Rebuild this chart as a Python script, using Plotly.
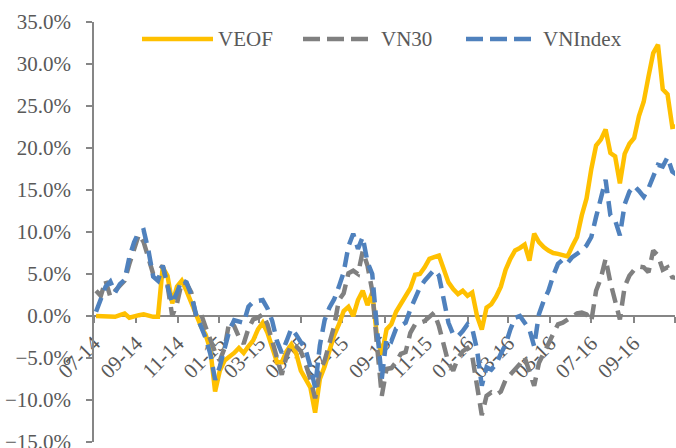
import plotly.graph_objects as go

dates = [
    "2014-07-04","2014-07-11","2014-07-18","2014-07-25","2014-08-01","2014-08-08","2014-08-15","2014-08-22","2014-08-29",
    "2014-09-05","2014-09-12","2014-09-19","2014-09-26","2014-10-03","2014-10-10","2014-10-17","2014-10-24","2014-10-31",
    "2014-11-07","2014-11-14","2014-11-21","2014-11-28","2014-12-05","2014-12-12","2014-12-19","2014-12-26",
    "2015-01-02","2015-01-09","2015-01-16","2015-01-23","2015-01-30","2015-02-06","2015-02-13","2015-02-20","2015-02-27",
    "2015-03-06","2015-03-13","2015-03-20","2015-03-27","2015-04-03","2015-04-10","2015-04-17","2015-04-24","2015-05-01",
    "2015-05-08","2015-05-15","2015-05-22","2015-05-29","2015-06-05","2015-06-12","2015-06-19","2015-06-26","2015-07-03",
    "2015-07-10","2015-07-17","2015-07-24","2015-07-31","2015-08-07","2015-08-14","2015-08-21","2015-08-28","2015-09-04",
    "2015-09-11","2015-09-18","2015-09-25","2015-10-02","2015-10-09","2015-10-16","2015-10-23","2015-10-30","2015-11-06",
    "2015-11-13","2015-11-20","2015-11-27","2015-12-04","2015-12-11","2015-12-18","2015-12-25",
    "2016-01-01","2016-01-08","2016-01-15","2016-01-22","2016-01-29","2016-02-05","2016-02-12","2016-02-19","2016-02-26",
    "2016-03-04","2016-03-11","2016-03-18","2016-03-25","2016-04-01","2016-04-08","2016-04-15","2016-04-22","2016-04-29",
    "2016-05-06","2016-05-13","2016-05-20","2016-05-27","2016-06-03","2016-06-10","2016-06-17","2016-06-24","2016-07-01",
    "2016-07-08","2016-07-15","2016-07-22","2016-07-29","2016-08-05","2016-08-12","2016-08-19","2016-08-26","2016-09-02",
    "2016-09-09","2016-09-16","2016-09-23","2016-09-30","2016-10-07","2016-10-14","2016-10-21","2016-10-28","2016-11-04",
]

veof = [
    0.0, 0.0, 0.0, -0.1, -0.1, 0.1, 0.3, -0.2, 0.0, 0.1,
    0.2, 0.0, -0.1, -0.1, 5.8, 4.8, 1.5, 3.5, 4.2, 3.0,
    1.5, 0.1, -1.2, -2.2, -4.0, -9.0, -6.5, -5.3, -4.9, -4.4,
    -3.8, -4.4, -3.6, -2.9, -1.6, -0.8, -2.0, -3.9, -5.5, -5.5,
    -4.2, -3.4, -4.4, -6.5, -7.6, -8.5, -11.5, -7.5, -6.0, -4.0,
    -2.3, -1.0, 0.6, 1.1, 0.0, 1.9, 3.0, 1.3, 2.8, -2.5,
    -4.6, -1.6, -1.0, 0.5, 1.5, 2.3, 3.3, 4.9, 5.0, 5.8,
    6.8, 7.0, 7.2, 5.6, 4.0, 3.2, 2.6, 3.0, 2.4, 2.8,
    0.0, -1.6, 1.0, 1.4, 2.3, 3.5, 5.5, 6.8, 7.8, 8.1,
    8.5, 6.6, 9.8, 8.8, 8.2, 7.8, 7.5, 7.4, 7.2, 7.1,
    8.3, 9.4, 12.0, 14.0, 17.5, 20.3, 21.0, 22.2, 19.4, 19.0,
    15.8, 19.3, 20.5, 21.2, 23.8, 25.5, 28.5, 31.3, 32.3, 27.0,
    26.4, 22.5, 22.6,
]

vn30 = [
    3.0, 2.4, 4.2, 2.3, 3.0, 3.7, 4.2, 6.2, 8.0, 9.7,
    8.8, 6.8, 5.0, 5.2, 6.0, 3.7, 0.0, 1.5, 4.0, 3.9,
    2.8, -0.1, 0.3, -1.3, -2.8, -4.3, -5.3, -3.8, -0.6, -1.2,
    -2.5, -3.3, -1.5, -0.4, -0.2, 0.2, -1.0, -3.1, -5.3, -7.0,
    -4.8, -3.4, -3.6, -4.2, -5.7, -7.5, -9.8, -6.5, -5.3, -3.2,
    -1.2, 1.9, 2.7, 5.1, 5.4, 5.0, 7.7, 6.0, 3.0, -3.5,
    -9.5, -6.3, -6.2, -5.5, -4.5, -4.3, -2.0, -1.0, -0.8, -0.6,
    -0.1, 0.4, -1.2, -3.6, -5.6, -6.5, -5.0, -4.2, -3.8, -4.8,
    -8.2, -11.8, -9.5, -9.1, -9.4, -9.0, -7.6, -7.0, -6.4, -5.7,
    -4.9, -6.7, -8.3, -5.6, -4.3, -3.3, -2.1, -1.0, -0.8, -0.4,
    0.0, 0.3, 0.4, 0.2, -0.6, 3.0, 4.5, 6.8, 4.0, 2.0,
    -0.4, 3.5, 4.8, 5.5, 5.9, 5.8, 5.2, 7.8, 7.2, 5.5,
    5.8, 4.6, 4.5,
]

vnindex = [
    0.5, 2.0, 3.5, 4.1, 2.8, 3.8, 4.3, 7.0, 8.8, 10.0,
    10.2, 7.8, 4.7, 4.2, 6.0, 3.6, 1.5, 2.8, 4.3, 4.0,
    2.5, 0.2, -1.1, -2.6, -4.5, -7.6, -6.0, -4.0, -1.7, -0.5,
    -0.7, -0.8, 1.1, 1.7, 1.8, 1.9, 0.9, -0.6, -3.0, -4.4,
    -3.0, -1.5, -2.2, -3.2, -4.0, -6.0, -8.5, -3.5, -0.5, 1.0,
    2.0, 3.5, 5.2, 8.3, 9.8, 8.0, 9.4, 6.4, 5.0, -1.5,
    -7.5, -2.6, -3.0, -1.5, -1.1, -0.8, 0.8, 2.0, 3.4, 4.2,
    4.9, 5.5, 4.8, 2.0, -0.8, -2.2, -2.4, -1.8, -1.0, -1.5,
    -4.0, -8.3, -6.1, -6.4, -5.7, -4.5, -3.4, -1.6, -0.2, 0.0,
    -0.8, -1.6, -3.6, 0.2, 1.8, 3.0, 4.8, 6.2, 6.7, 6.3,
    7.0, 7.4, 7.8, 8.4, 9.4, 11.8, 13.8, 16.2, 12.0, 11.4,
    9.6, 13.3, 14.8, 15.5, 14.9, 14.2, 15.2, 16.8, 18.0, 17.8,
    18.9, 17.2, 16.8,
]

tick_dates = ["2014-07-01","2014-09-01","2014-11-01","2015-01-01","2015-03-01","2015-05-01","2015-07-01",
              "2015-09-01","2015-11-01","2016-01-01","2016-03-01","2016-05-01","2016-07-01","2016-09-01","2016-11-01"]
tick_labels = ["07-14","09-14","11-14","01-15","03-15","05-15","07-15",
               "09-15","11-15","01-16","03-16","05-16","07-16","09-16",""]

series_names = ["VEOF", "VN30", "VNIndex"]
series_colors = ["#FFC000", "#808080", "#4F81BD"]
series_dash = ["solid", "15px,8px", "15px,8px"]

# page body margin is removed below, so figure pixels == page pixels
W, H = 676, 448
PX0, PX1, PY0, PY1 = 94, 675, 22, 442
L, T = PX0, PY0
R, B = W - PX1, H - PY1
PW, PH = PX1 - PX0, PY1 - PY0
FONT = "Liberation Serif"
TXT = "#595959"
AX = "#868686"

fig = go.Figure()
for name, vals, col, dash in zip(series_names, [veof, vn30, vnindex], series_colors, series_dash):
    fig.add_trace(go.Scatter(x=dates, y=vals, name=name, mode="lines",
                             line=dict(color=col, width=4.5, dash=dash), showlegend=False))

def px_x(p):
    return (p - PX0) / PW

def px_y(p):
    return (PY1 - p) / PH

# custom legend (long line samples like the original)
leg_y = px_y(39)
samples = [(142, 213, 216), (303, 370, 379), (466, 531, 541)]
shapes = []
annotations = []
for (x0, x1, tx), name, col, dash in zip(samples, series_names, series_colors, series_dash):
    shapes.append(dict(type="line", xref="paper", yref="paper", x0=px_x(x0), x1=px_x(x1),
                       y0=leg_y, y1=leg_y, line=dict(color=col, width=4.5,
                                                     dash=("solid" if dash == "solid" else "17px,7px"))))
    annotations.append(dict(xref="paper", yref="paper", x=px_x(tx), y=leg_y, text=name,
                            showarrow=False, xanchor="left", yanchor="middle",
                            font=dict(family=FONT, size=21, color=TXT)))

fig.update_layout(
    width=W, height=H,
    margin=dict(l=L, r=R, t=T, b=B, autoexpand=False),
    paper_bgcolor="white", plot_bgcolor="white",
    shapes=shapes, annotations=annotations,
    showlegend=False,
    xaxis=dict(type="date", range=["2014-07-01", "2016-11-01"],
               tickvals=tick_dates, ticktext=tick_labels, tickangle=-45,
               anchor="free", position=0.3, automargin=False, ticklabeloverflow="allow",
               showline=True, linecolor=AX, linewidth=1.5,
               ticks="outside", ticklen=6, tickcolor=AX, tickwidth=1.5,
               showgrid=False, zeroline=False, layer="below traces",
               tickfont=dict(family=FONT, size=21, color=TXT)),
    yaxis=dict(range=[-15, 35], dtick=5, tick0=0, tickformat=".1f", ticksuffix="%",
               automargin=False, ticklabelstandoff=11, ticklabeloverflow="allow",
               showline=True, linecolor=AX, linewidth=1.5,
               ticks="outside", ticklen=6, tickcolor=AX, tickwidth=1.5,
               showgrid=False, zeroline=False,
               tickfont=dict(family=FONT, size=21, color=TXT)),
)

fig.write_html("out.html", config={"displayModeBar": False},
               post_script="document.body.style.margin='0';document.body.style.overflow='hidden';")
